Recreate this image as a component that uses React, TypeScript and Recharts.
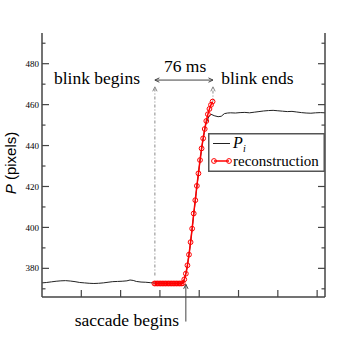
import React from 'react';
import { LineChart, Line, XAxis, YAxis, ReferenceLine, ReferenceDot, Legend } from 'recharts';

// ---- data ----
const xTicks = [50, 100, 150, 200, 250, 300, 350];
const yTicks = [370, 380, 390, 400, 410, 420, 430, 440, 450, 460, 470, 480, 490];
const yLabelTicks = [380, 400, 420, 440, 460, 480];

const blackT = [
  0, 6, 12, 18, 24, 30, 36, 42, 48, 54, 60, 66, 72, 78, 84, 90, 96, 102, 108, 112, 116, 120, 126, 132, 138,
  144, 152, 160, 168, 176, 180, 184, 188, 192, 196, 200, 204, 208, 212, 215, 219, 224, 228, 232, 236, 240,
  246, 252, 258, 264, 270, 276, 282, 288, 294, 300, 306, 312, 318, 324, 330, 336, 342, 348, 354, 360,
];
const blackP = [
  372.9, 373.1, 373.4, 373.7, 373.9, 374.0, 373.8, 373.5, 373.1, 372.9, 372.7, 372.6, 372.7, 372.9, 373.2,
  373.5, 373.6, 373.7, 373.9, 374.3, 374.1, 373.6, 373.3, 373.2, 373.0,
  372.8, 372.8, 372.7, 372.7, 372.8, 373.0, 379.0, 389.5, 402.8, 416.5, 429.5, 441.0, 450.0, 454.0, 455.3,
  454.6, 454.1, 454.3, 455.6, 455.9, 456.0,
  455.9, 456.1, 456.2, 456.0, 456.3, 456.6, 456.9, 457.1, 457.2, 457.0, 456.8, 456.6, 456.7, 456.4, 456.1,
  455.9, 455.8, 456.0, 456.1, 456.0,
];

const redT = [
  143, 145, 147, 149, 151, 153, 155, 157, 159, 161, 163, 165, 167, 169, 171, 173, 175, 177, 179,
  181, 183, 185, 187, 189, 191, 193, 195, 197, 199, 201, 203, 205, 207, 209, 211, 213, 215, 217,
];
const redP = [
  372.6, 372.6, 372.6, 372.6, 372.6, 372.6, 372.6, 372.6, 372.6, 372.6, 372.6, 372.6, 372.6, 372.6, 372.6,
  372.6, 372.6, 372.6, 372.7,
  374.6, 377.4, 381.5, 386.7, 392.8, 399.4, 406.8, 413.3, 420.3, 426.4, 432.9, 438.6, 443.5, 448.1, 452.0,
  455.3, 457.9, 459.9, 461.5,
];

// annotation anchors (data coordinates)
const blinkBegin = 143.6;
const blinkEnd = 217.5;
const saccadeBegin = 183;
const durationLevel = 472;
const annotationTexts = ['blink begins', '76 ms', 'blink ends', 'saccade begins'];
const annotationT = [70, 182, 274, 108];
const annotationP = [470, 476, 470, 352];

const blackData = blackT.map((t, i) => ({ t, p: blackP[i] }));
const redData = redT.map((t, i) => ({ t, p: redP[i] }));

// ---- styles ----
const FRAME = '#444';
const SERIF = '"Liberation Serif", "Times New Roman", serif';
const SANS = '"Liberation Sans", Arial, sans-serif';

function LeftTick(props: any) {
  const { x, y, payload } = props;
  const v = payload.value;
  const major = yLabelTicks.includes(v);
  return (
    <g>
      <line x1={x} y1={y} x2={x + (major ? 7 : 3.5)} y2={y} stroke={FRAME} strokeWidth={1.2} />
      {major && (
        <text x={x - 3} y={y} dy="0.35em" textAnchor="end" fontSize={9} fontFamily={SERIF} fill="#000">
          {v}
        </text>
      )}
    </g>
  );
}
function RightTick(props: any) {
  const { x, y, payload } = props;
  const major = yLabelTicks.includes(payload.value);
  return <line x1={x} y1={y} x2={x - (major ? 7 : 3.5)} y2={y} stroke={FRAME} strokeWidth={1.2} />;
}
function BottomTick(props: any) {
  const { x, y } = props;
  return <line x1={x} y1={y} x2={x} y2={y - 7} stroke={FRAME} strokeWidth={1.2} />;
}
function TopTick(props: any) {
  const { x, y } = props;
  return <line x1={x} y1={y} x2={x} y2={y + 7} stroke={FRAME} strokeWidth={1.2} />;
}

function YLabel(props: any) {
  const vb = props.viewBox || { x: 0, y: 33, width: 42, height: 264 };
  const cx = vb.x + 16;
  const cy = vb.y + vb.height / 2 - 2;
  return (
    <text
      x={cx}
      y={cy}
      transform={`rotate(-90 ${cx} ${cy})`}
      textAnchor="middle"
      fontSize={15}
      fontFamily={SANS}
      fill="#000"
    >
      <tspan fontStyle="italic">P</tspan>
      <tspan> (pixels)</tspan>
    </text>
  );
}

function head(x: number, y: number, ang: number, color: string) {
  const len = 5;
  const spread = 0.45;
  const a1 = ang + Math.PI - spread;
  const a2 = ang + Math.PI + spread;
  return (
    <polyline
      points={`${x + len * Math.cos(a1)},${y + len * Math.sin(a1)} ${x},${y} ${x + len * Math.cos(a2)},${y + len * Math.sin(a2)}`}
      fill="none"
      stroke={color}
      strokeWidth={1}
    />
  );
}

function makeArrow(opts: { dash?: string; color: string; start?: boolean; end?: boolean }) {
  return (p: any) => {
    const { x1, y1, x2, y2 } = p;
    const ang = Math.atan2(y2 - y1, x2 - x1);
    return (
      <g>
        <line x1={x1} y1={y1} x2={x2} y2={y2} stroke={opts.color} strokeWidth={1} strokeDasharray={opts.dash} />
        {opts.end && head(x2, y2, ang, opts.color)}
        {opts.start && head(x1, y1, ang + Math.PI, opts.color)}
      </g>
    );
  };
}

function makeText(text: string) {
  return (p: any) => (
    <text x={p.cx} y={p.cy} textAnchor="middle" fontSize={17.5} fontFamily={SERIF} fill="#000">
      {text}
    </text>
  );
}

function LegendBox() {
  return (
    <svg width={117} height={39} style={{ display: 'block' }}>
      <rect x={0.75} y={0.75} width={115.5} height={37.5} fill="#fff" stroke="#555" strokeWidth={1.5} />
      <line x1={5} y1={10.5} x2={22} y2={10.5} stroke="#222" strokeWidth={1} />
      <text x={25} y={14.5} fontSize={16} fontStyle="italic" fontFamily={SERIF} fill="#000">
        P
      </text>
      <text x={35} y={19} fontSize={10} fontStyle="italic" fontFamily={SERIF} fill="#000">
        i
      </text>
      <line x1={6} y1={28} x2={21} y2={28} stroke="#ff0000" strokeWidth={1.5} />
      <circle cx={6} cy={28} r={2.4} fill="none" stroke="#ff0000" strokeWidth={1} />
      <circle cx={21} cy={28} r={2.4} fill="none" stroke="#ff0000" strokeWidth={1} />
      <text x={25} y={33} fontSize={15} fontFamily={SERIF} fill="#000">
        reconstruction
      </text>
    </svg>
  );
}

export default function App() {
  return (
    <div style={{ position: 'absolute', left: 0, top: 0, width: 354, height: 354, background: '#fff' }}>
      <LineChart width={354} height={354} margin={{ top: 33, right: 0, bottom: 0, left: 0 }}>
        <XAxis
          xAxisId="b"
          type="number"
          dataKey="t"
          domain={[0, 360]}
          ticks={xTicks}
          interval={0}
          allowDataOverflow
          height={57}
          tickSize={0}
          tickMargin={0}
          tickLine={false}
          tick={<BottomTick />}
          axisLine={{ stroke: FRAME, strokeWidth: 1.5 }}
        />
        <XAxis
          xAxisId="top"
          orientation="top"
          type="number"
          dataKey="t"
          domain={[0, 360]}
          ticks={xTicks}
          interval={0}
          allowDataOverflow
          height={0}
          tickSize={0}
          tickMargin={0}
          tickLine={false}
          tick={<TopTick />}
          axisLine={{ stroke: FRAME, strokeWidth: 1.5 }}
        />
        <YAxis
          yAxisId="l"
          type="number"
          domain={[366, 495]}
          ticks={yTicks}
          interval={0}
          allowDataOverflow
          width={42}
          tickSize={0}
          tickMargin={0}
          tickLine={false}
          tick={<LeftTick />}
          axisLine={{ stroke: FRAME, strokeWidth: 1.5 }}
          label={(p: any) => <YLabel {...p} />}
        />
        <YAxis
          yAxisId="r"
          orientation="right"
          type="number"
          domain={[366, 495]}
          ticks={yTicks}
          interval={0}
          allowDataOverflow
          width={29}
          tickSize={0}
          tickMargin={0}
          tickLine={false}
          tick={<RightTick />}
          axisLine={{ stroke: FRAME, strokeWidth: 1.5 }}
        />
        <Legend
          layout="vertical"
          align="center"
          verticalAlign="middle"
          content={() => <LegendBox />}
          wrapperStyle={{ left: 208, top: 133, width: 117, height: 39 }}
        />
        <ReferenceLine
          xAxisId="b"
          yAxisId="l"
          ifOverflow="visible"
          segment={[{ x: blinkBegin, y: 376.5 }, { x: blinkBegin, y: 468.7 }]}
          shape={makeArrow({ dash: '3 2 1 2', color: '#888', end: true })}
        />
        <ReferenceLine
          xAxisId="b"
          yAxisId="l"
          ifOverflow="visible"
          segment={[{ x: blinkEnd, y: 461.5 }, { x: blinkEnd, y: 468.7 }]}
          shape={makeArrow({ dash: '3 2 1 2', color: '#888', end: true })}
        />
        <ReferenceLine
          xAxisId="b"
          yAxisId="l"
          ifOverflow="visible"
          segment={[{ x: blinkBegin, y: durationLevel }, { x: blinkEnd, y: durationLevel }]}
          shape={makeArrow({ color: '#444', start: true, end: true })}
        />
        <ReferenceLine
          xAxisId="b"
          yAxisId="l"
          ifOverflow="visible"
          segment={[{ x: saccadeBegin, y: 354 }, { x: saccadeBegin, y: 372.2 }]}
          shape={makeArrow({ color: '#444', end: true })}
        />
        {annotationTexts.map((txt, i) => (
          <ReferenceDot
            key={txt}
            xAxisId="b"
            yAxisId="l"
            x={annotationT[i]}
            y={annotationP[i]}
            r={0}
            ifOverflow="visible"
            shape={makeText(txt)}
          />
        ))}
        <Line
          xAxisId="b"
          yAxisId="l"
          data={blackData}
          dataKey="p"
          type="linear"
          stroke="#222"
          strokeWidth={1}
          dot={false}
          isAnimationActive={false}
        />
        <Line
          xAxisId="b"
          yAxisId="l"
          data={redData}
          dataKey="p"
          type="linear"
          stroke="#ff0000"
          strokeWidth={1.5}
          dot={{ r: 2.4, stroke: '#ff0000', strokeWidth: 1, fill: 'none' }}
          isAnimationActive={false}
        />
      </LineChart>
    </div>
  );
}
